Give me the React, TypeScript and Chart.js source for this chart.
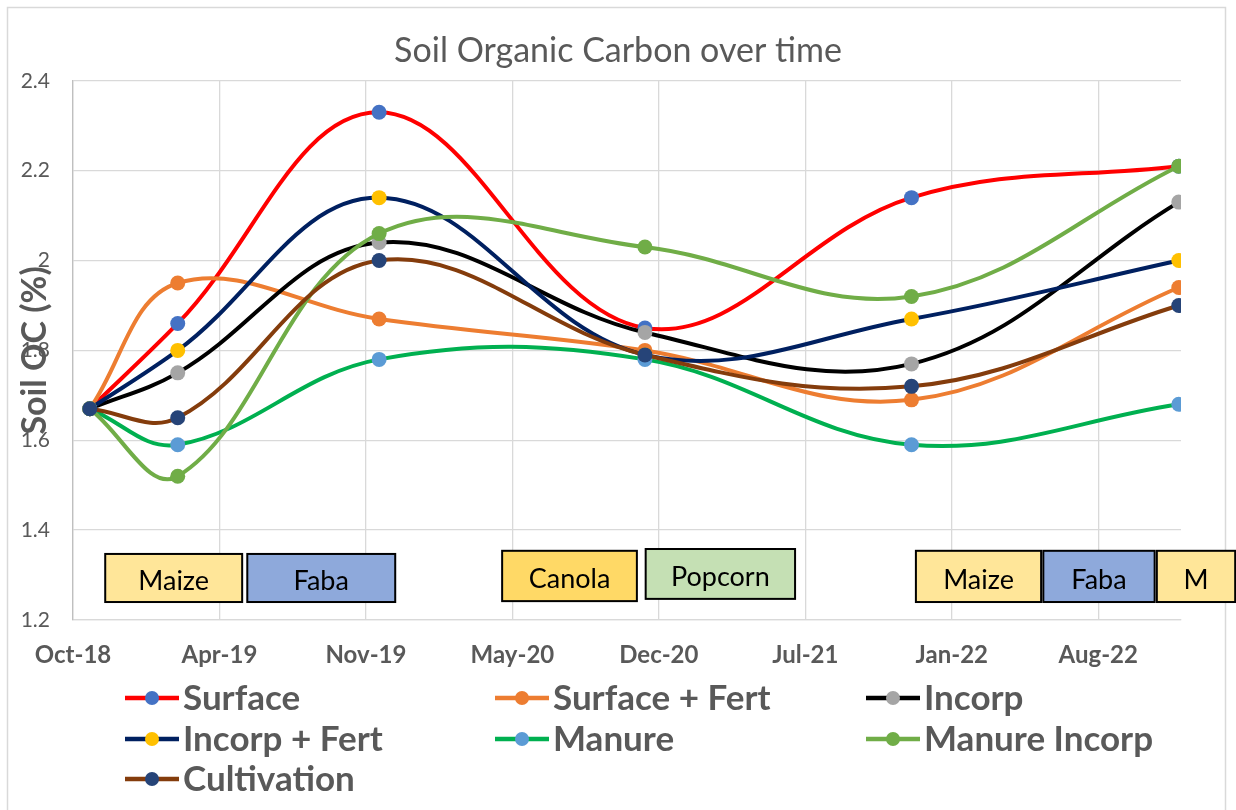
import React, { useEffect, useRef } from 'react';
import { Chart, registerables } from 'chart.js';

Chart.register(...registerables);

// ---------- data ----------
const axisStartDate = '2018-10-07';
const axisEndDate = '2022-11-28';
const sampleDates = ['2018-10-30', '2019-02-27', '2019-11-29', '2020-11-26', '2021-11-25', '2022-11-25'];
const tickStepDays = 200;
const xTickLabels = ['Oct-18', 'Apr-19', 'Nov-19', 'May-20', 'Dec-20', 'Jul-21', 'Jan-22', 'Aug-22'];
const yTickLabels = ['1.2', '1.4', '1.6', '1.8', '2', '2.2', '2.4'];

const seriesNames = ['Surface', 'Surface + Fert', 'Incorp', 'Incorp + Fert', 'Manure', 'Manure Incorp', 'Cultivation'];
const surface = [1.67, 1.86, 2.33, 1.85, 2.14, 2.21];
const surfaceFert = [1.67, 1.95, 1.87, 1.80, 1.69, 1.94];
const incorp = [1.67, 1.75, 2.04, 1.84, 1.77, 2.13];
const incorpFert = [1.67, 1.80, 2.14, 1.79, 1.87, 2.00];
const manure = [1.67, 1.59, 1.78, 1.78, 1.59, 1.68];
const manureIncorp = [1.67, 1.52, 2.06, 2.03, 1.92, 2.21];
const cultivation = [1.67, 1.65, 2.00, 1.79, 1.72, 1.90];

// crop periods (days after axis start) and their label band (SOC units)
const cropLabels = ['Maize', 'Faba', 'Canola', 'Popcorn', 'Maize', 'Faba', 'M'];
const cropStartDays = [44, 238, 586, 782, 1151, 1325, 1480];
const cropEndDays = [231, 440, 770, 986, 1322, 1477, 1587];
const cropTop = [1.347, 1.347, 1.354, 1.358, 1.354, 1.354, 1.354];
const cropBottom = [1.240, 1.240, 1.242, 1.247, 1.240, 1.240, 1.240];

// ---------- styles ----------
const lineColors = ['#FF0000', '#ED7D31', '#000000', '#002060', '#00B050', '#70AD47', '#843C0C'];
const markerColors = ['#4472C4', '#ED7D31', '#A5A5A5', '#FFC000', '#5B9BD5', '#70AD47', '#264478'];
const cropFills = ['#FFE699', '#8EA9DB', '#FFD966', '#C5E0B4', '#FFE699', '#8EA9DB', '#FFE699'];
const FONT = 'Lato, "Open Sans", sans-serif';
const GREY = '#595959';

const DAY = 86400000;
const dayOf = (d: string) => Math.round((Date.parse(d) - Date.parse(axisStartDate)) / DAY);
const sampleDays = sampleDates.map(dayOf);
const maxDay = dayOf(axisEndDate);
const seriesValues = [surface, surfaceFert, incorp, incorpFert, manure, manureIncorp, cultivation];

const framePlugin = {
  id: 'frame',
  beforeDraw(chart: any) {
    const { ctx, height } = chart;
    ctx.save();
    ctx.fillStyle = '#ffffff';
    ctx.fillRect(0, 0, chart.width, height);
    ctx.strokeStyle = '#d9d9d9';
    ctx.lineWidth = 1.5;
    ctx.strokeRect(7.5, 7.5, 1218, height + 20);
    ctx.restore();
  },
};

const cropPlugin = {
  id: 'crops',
  afterDatasetsDraw(chart: any) {
    const { ctx } = chart;
    const xs = chart.scales.x;
    const ys = chart.scales.y;
    ctx.save();
    cropLabels.forEach((label, i) => {
      const x1 = xs.getPixelForValue(cropStartDays[i]);
      const x2 = xs.getPixelForValue(cropEndDays[i]);
      const y1 = ys.getPixelForValue(cropTop[i]);
      const y2 = ys.getPixelForValue(cropBottom[i]);
      ctx.fillStyle = cropFills[i];
      ctx.fillRect(x1, y1, x2 - x1, y2 - y1);
      ctx.strokeStyle = '#000000';
      ctx.lineWidth = 2;
      ctx.strokeRect(x1, y1, x2 - x1, y2 - y1);
      ctx.fillStyle = '#000000';
      ctx.font = `27px ${FONT}`;
      ctx.textAlign = 'center';
      ctx.textBaseline = 'middle';
      ctx.fillText(label, (x1 + x2) / 2, (y1 + y2) / 2 + 3.5);
    });
    ctx.restore();
  },
};

const legendPlugin = {
  id: 'customLegend',
  afterDraw(chart: any) {
    const { ctx } = chart;
    const colX = [125, 495, 866];
    const rowY = [698, 739, 779];
    ctx.save();
    chart.data.datasets.forEach((ds: any, i: number) => {
      const x = colX[i % 3];
      const y = rowY[Math.floor(i / 3)];
      ctx.strokeStyle = lineColors[i];
      ctx.lineWidth = 4.5;
      ctx.beginPath();
      ctx.moveTo(x, y);
      ctx.lineTo(x + 54, y);
      ctx.stroke();
      ctx.fillStyle = markerColors[i];
      ctx.beginPath();
      ctx.arc(x + 27, y, 7, 0, Math.PI * 2);
      ctx.fill();
      ctx.fillStyle = GREY;
      ctx.font = `bold 35px ${FONT}`;
      ctx.textAlign = 'left';
      ctx.textBaseline = 'middle';
      ctx.fillText(ds.label, x + 58, y + 1);
    });
    ctx.restore();
  },
};

export default function App() {
  const canvasRef = useRef<HTMLCanvasElement | null>(null);

  useEffect(() => {
    if (!canvasRef.current) return;
    const n = seriesNames.length;
    const chart = new Chart(canvasRef.current, {
      type: 'line',
      data: {
        datasets: seriesNames.map((name, i) => ({
          label: name,
          data: sampleDays.map((d, j) => ({ x: d, y: seriesValues[i][j] })),
          borderColor: lineColors[i],
          backgroundColor: markerColors[i],
          pointBackgroundColor: markerColors[i],
          pointBorderColor: markerColors[i],
          pointBorderWidth: 0,
          pointRadius: 7.5,
          borderWidth: 4,
          tension: 0.38,
          fill: false,
          order: n - i,
        })),
      },
      options: {
        responsive: false,
        animation: false,
        layout: { padding: { left: 0, right: 0, top: 0, bottom: 0 } },
        plugins: {
          legend: { display: false },
          tooltip: { enabled: false },
          title: {
            display: true,
            text: 'Soil Organic Carbon over time',
            color: GREY,
            font: { family: FONT, size: 34, weight: 'normal' },
            padding: { top: 31, bottom: 9 },
          },
        },
        scales: {
          x: {
            type: 'linear',
            min: 0,
            max: maxDay,
            afterFit: (s: any) => { s.height = 190; },
            grid: { color: '#d9d9d9', lineWidth: 1.3, drawTicks: false },
            border: { color: '#d9d9d9', width: 1.3 },
            ticks: {
              stepSize: tickStepDays,
              includeBounds: false,
              autoSkip: false,
              maxRotation: 0,
              padding: 21,
              color: GREY,
              font: { family: FONT, size: 24, weight: 'bold' },
              callback: (v: any) => {
                const i = Math.round(Number(v) / tickStepDays);
                return Math.abs(Number(v) - i * tickStepDays) < 1e-6 ? xTickLabels[i] : '';
              },
            },
          },
          y: {
            min: 1.2,
            max: 2.4,
            afterFit: (s: any) => { s.width = 73; },
            grid: { color: '#d9d9d9', lineWidth: 1.3, drawTicks: false },
            border: { color: '#bfbfbf', width: 1.3 },
            title: {
              display: true,
              text: 'Soil OC (%)',
              color: GREY,
              font: { family: FONT, size: 34, weight: 'bold' },
              padding: { top: 15, bottom: 0 },
            },
            ticks: {
              stepSize: 0.2,
              padding: 23,
              color: GREY,
              font: { family: FONT, size: 21 },
              callback: (_v: any, i: number) => yTickLabels[i],
            },
          },
          yRight: {
            position: 'right',
            min: 1.2,
            max: 2.4,
            afterFit: (s: any) => { s.width = 55; },
            grid: { display: false, drawTicks: false },
            border: { display: false },
            ticks: { display: false },
          },
        },
      },
      plugins: [framePlugin, cropPlugin, legendPlugin],
    } as any);
    return () => chart.destroy();
  }, []);

  return (
    <div style={{ position: 'fixed', left: 0, top: 0, width: 1236, height: 810, background: '#fff' }}>
      <canvas ref={canvasRef} width={1236} height={810} style={{ display: 'block' }} />
    </div>
  );
}
